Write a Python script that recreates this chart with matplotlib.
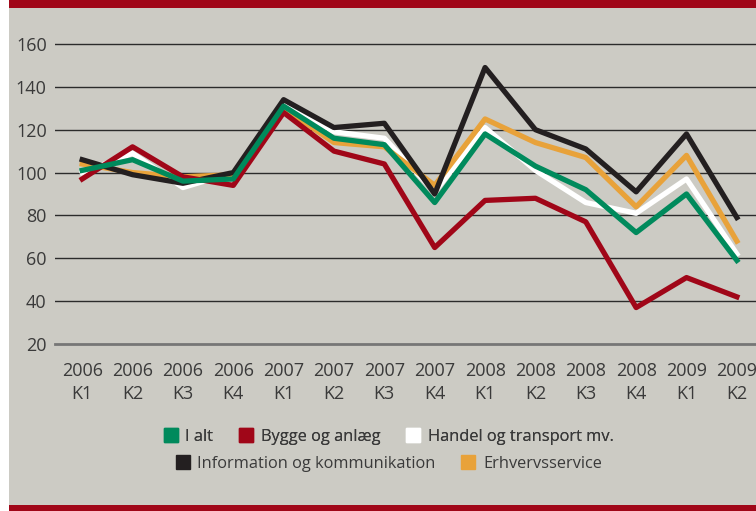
import matplotlib
matplotlib.use('Agg')
import matplotlib.pyplot as plt
from matplotlib.lines import Line2D
from matplotlib.patches import Rectangle

plt.rcParams['font.family'] = ['Open Sans', 'DejaVu Sans']

# Quarters 2006 K1 .. 2009 K2
quarters = ['2006\nK1', '2006\nK2', '2006\nK3', '2006\nK4',
            '2007\nK1', '2007\nK2', '2007\nK3', '2007\nK4',
            '2008\nK1', '2008\nK2', '2008\nK3', '2008\nK4',
            '2009\nK1', '2009\nK2']

i_alt = [101, 106, 96, 97, 131, 116, 113, 86, 118, 103, 92, 72, 90, 59]
bygge = [97, 112, 98, 94, 128, 110, 104, 65, 87, 88, 77, 37, 51, 42]
handel = [100, 109, 93, 100, 132, 119, 116, 91, 121, 101, 86, 81, 97, 62]
information = [106, 99, 95, 100, 134, 121, 123, 90, 149, 120, 111, 91, 118, 79]
erhverv = [104, 100, 98, 99, 130, 114, 112, 94, 125, 114, 107, 84, 108, 68]

GREEN = '#008a5c'
RED = '#a00618'
WHITE = '#ffffff'
BLACK = '#231f20'
ORANGE = '#e8a23a'
BG = '#cccbc4'
TEXT = '#3a3a3a'

fig = plt.figure(figsize=(7.56, 5.11), dpi=100)
fig.patch.set_facecolor(BG)

# white strip on the left, red bars top and bottom
fig.patches.append(Rectangle((0, 0), 9 / 756, 1, transform=fig.transFigure,
                             facecolor='white', edgecolor='none', zorder=0))
fig.patches.append(Rectangle((9 / 756, 1 - 8 / 511), 1, 8 / 511, transform=fig.transFigure,
                             facecolor=RED, edgecolor='none', zorder=0))
fig.patches.append(Rectangle((9 / 756, 0), 1, 6 / 511, transform=fig.transFigure,
                             facecolor=RED, edgecolor='none', zorder=0))

ax = fig.add_axes([55 / 756, 1 - 344 / 511, 1 - 55 / 756, (344 - 30) / 511])
ax.set_facecolor(BG)

x = list(range(len(quarters)))
lw = 3.8
ax.plot(x, handel, color=WHITE, linewidth=lw, zorder=3)
ax.plot(x, erhverv, color=ORANGE, linewidth=lw, zorder=3)
ax.plot(x, information, color=BLACK, linewidth=lw, zorder=3)
ax.plot(x, bygge, color=RED, linewidth=lw, zorder=3)
ax.plot(x, i_alt, color=GREEN, linewidth=lw, zorder=4)

ax.set_xlim(-0.54, 13.38)
ax.set_ylim(20, 160 + 14 / 2.15)
ax.set_yticks([20, 40, 60, 80, 100, 120, 140, 160])
ax.set_xticks(x)
ax.set_xticklabels(quarters, linespacing=1.35)

for v in [40, 60, 80, 100, 120, 140, 160]:
    ax.axhline(v, color='#2b2b2b', linewidth=1.0, zorder=1)

for s in ['top', 'right', 'left']:
    ax.spines[s].set_visible(False)
ax.spines['bottom'].set_color('#767676')
ax.spines['bottom'].set_linewidth(2)

ax.tick_params(axis='both', length=0, labelsize=13, colors=TEXT)
ax.tick_params(axis='x', pad=13)
ax.tick_params(axis='y', pad=6)

def sq(c):
    return Line2D([], [], marker='s', markersize=10, linestyle='none',
                  color=c, markeredgecolor=c)

leg1 = fig.legend([sq(GREEN), sq(RED), sq(WHITE)],
                  ['I alt', 'Bygge og anlæg', 'Handel og transport mv.'],
                  ncol=3, loc='center', bbox_to_anchor=(389 / 756, 1 - 437 / 511),
                  frameon=False, fontsize=11.8, handlelength=0.8, handletextpad=0.5,
                  columnspacing=1.6, labelcolor=TEXT)
leg2 = fig.legend([sq(BLACK), sq(ORANGE)],
                  ['Information og kommunikation', 'Erhvervsservice'],
                  ncol=2, loc='center', bbox_to_anchor=(389 / 756, 1 - 464 / 511),
                  frameon=False, fontsize=11.8, handlelength=0.8, handletextpad=0.5,
                  columnspacing=1.6, labelcolor=TEXT)
fig.add_artist(leg1)

plt.savefig('out.png', dpi=100, facecolor=BG)
